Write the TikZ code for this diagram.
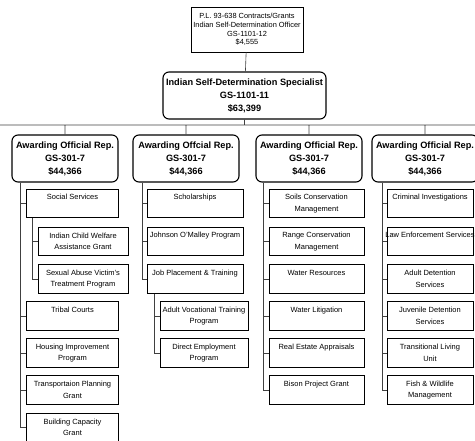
\documentclass[tikz,border=0pt]{standalone}
\usepackage{fontspec}
\setmainfont{Liberation Sans}
\begin{document}
\begin{tikzpicture}[x=1pt, y=-1pt,
    head/.style={draw, rounded corners=6pt, line width=1.1pt, align=center,
      minimum height=47pt, inner sep=0pt, font=\bfseries\fontsize{9.2}{13}\selectfont},
    unit/.style={draw, line width=0.7pt, align=center, minimum width=#1,
      minimum height=28.5pt, inner xsep=0pt, inner ysep=1pt,
      font=\fontsize{7.5}{11.5}\selectfont},
    oneline/.style={text depth=13pt},
    link/.style={line width=0.6pt, black!75}]

	 \useasboundingbox (0,0) rectangle (475,441);
	 \clip (0,0) rectangle (475,441);

	 \node (top) [draw, line width=0.7pt, align=center, minimum width=112pt, minimum height=45pt,
	   inner sep=0pt, font=\fontsize{7.4}{8.8}\selectfont] at (247,29.5)
	   {P.L. 93-638 Contracts/Grants\\Indian Self-Determination Officer\\GS-1101-12\\\$4,555};
	 \node (spec) [head, minimum width=163pt] at (244.5,95.5)
	   {Indian Self-Determination Specialist\\GS-1101-11\\\$63,399};

	 \node (aor1) [head, minimum width=106pt] at (65,158.5)  {Awarding Official Rep.\\GS-301-7\\\$44,366};
	 \node (aor2) [head, minimum width=106pt] at (186,158.5) {Awarding Offcial Rep.\\GS-301-7\\\$44,366};
	 \node (aor3) [head, minimum width=106pt] at (309,158.5) {Awarding Official Rep.\\GS-301-7\\\$44,366};
	 \node (aor4) [head, minimum width=106pt] at (425,158.5) {Awarding Official Rep.\\GS-301-7\\\$44,366};

	 % first column
	 \node (social)    [unit=92pt, oneline] at (72.5,203.5) {Social Services};
	 \node (icwa)      [unit=90pt] at (83,241.5)  {Indian Child Welfare\\Assistance Grant};
	 \node (savt)      [unit=90pt] at (83,279)    {Sexual Abuse Victim's\\Treatment Program};
	 \node (tribal)    [unit=92pt, oneline] at (72.5,316) {Tribal Courts};
	 \node (housing)   [unit=92pt] at (72.5,353)  {Housing Improvement\\Program};
	 \node (transport) [unit=92pt] at (72.5,390)  {Transportaion Planning\\Grant};
	 \node (capacity)  [unit=92pt] at (72.5,427.5) {Building Capacity\\Grant};

	 % second column
	 \node (schol)  [unit=96pt, oneline] at (195,203.5) {Scholarships};
	 \node (jom)    [unit=96pt, oneline] at (195,241.5) {Johnson O'Malley Program};
	 \node (jobs)   [unit=96pt, oneline] at (195,279)   {Job Placement \& Training};
	 \node (avt)    [unit=88pt] at (204,316) {Adult Vocational Training\\Program};
	 \node (direct) [unit=88pt] at (204,353) {Direct Employment\\Program};

	 % third column
	 \node (soils)  [unit=95pt] at (316.5,203.5) {Soils Conservation\\Management};
	 \node (range)  [unit=95pt] at (316.5,241.5) {Range Conservation\\Management};
	 \node (water)  [unit=95pt, oneline] at (316.5,279) {Water Resources};
	 \node (litig)  [unit=95pt, oneline] at (316.5,316) {Water Litigation};
	 \node (estate) [unit=95pt, oneline] at (316.5,353) {Real Estate Appraisals};
	 \node (bison)  [unit=95pt, oneline] at (316.5,390) {Bison Project Grant};

	 % fourth column
	 \node (crim)   [unit=86pt, oneline] at (430,203.5) {Criminal Investigations};
	 \node (law)    [unit=86pt, oneline, inner xsep=-2pt] at (430,241.5) {Law Enforcement Services};
	 \node (adult)  [unit=86pt] at (430,279) {Adult Detention\\Services};
	 \node (juven)  [unit=86pt] at (430,316) {Juvenile Detention\\Services};
	 \node (trans)  [unit=86pt] at (430,353) {Transitional Living\\Unit};
	 \node (fish)   [unit=86pt] at (430,390) {Fish \& Wildlife\\Management};

	 \coordinate (busL) at (0,125);
	 \coordinate (busR) at (475,125);

	 \draw[link] (top) -- (spec)
	   (spec) -- (spec |- busL)
	   (busL) -- (busR)
	   (aor1 |- busL) -- (aor1)
	   (aor2 |- busL) -- (aor2)
	   (aor3 |- busL) -- (aor3)
	   (aor4 |- busL) -- (aor4);

	 \draw[link] ([xshift=-45pt]aor1.south) |- (social.west)
	   ([xshift=-45pt]aor1.south) |- (tribal.west)
	   ([xshift=-45pt]aor1.south) |- (housing.west)
	   ([xshift=-45pt]aor1.south) |- (transport.west)
	   ([xshift=-45pt]aor1.south) |- (capacity.west);
	 \draw[link] ([xshift=-40.5pt]social.south) |- (icwa.west)
	   ([xshift=-40.5pt]social.south) |- (savt.west);

	 \draw[link] ([xshift=-44pt]aor2.south) |- (schol.west)
	   ([xshift=-44pt]aor2.south) |- (jom.west)
	   ([xshift=-44pt]aor2.south) |- (jobs.west);
	 \draw[link] ([xshift=-41pt]jobs.south) |- (avt.west)
	   ([xshift=-41pt]jobs.south) |- (direct.west);

	 \draw[link] ([xshift=-46pt]aor3.south) |- (soils.west)
	   ([xshift=-46pt]aor3.south) |- (range.west)
	   ([xshift=-46pt]aor3.south) |- (water.west)
	   ([xshift=-46pt]aor3.south) |- (litig.west)
	   ([xshift=-46pt]aor3.south) |- (estate.west)
	   ([xshift=-46pt]aor3.south) |- (bison.west);

	 \draw[link] ([xshift=-43pt]aor4.south) |- (crim.west)
	   ([xshift=-43pt]aor4.south) |- (law.west)
	   ([xshift=-43pt]aor4.south) |- (adult.west)
	   ([xshift=-43pt]aor4.south) |- (juven.west)
	   ([xshift=-43pt]aor4.south) |- (trans.west)
	   ([xshift=-43pt]aor4.south) |- (fish.west);
	\end{tikzpicture}
\end{document}
